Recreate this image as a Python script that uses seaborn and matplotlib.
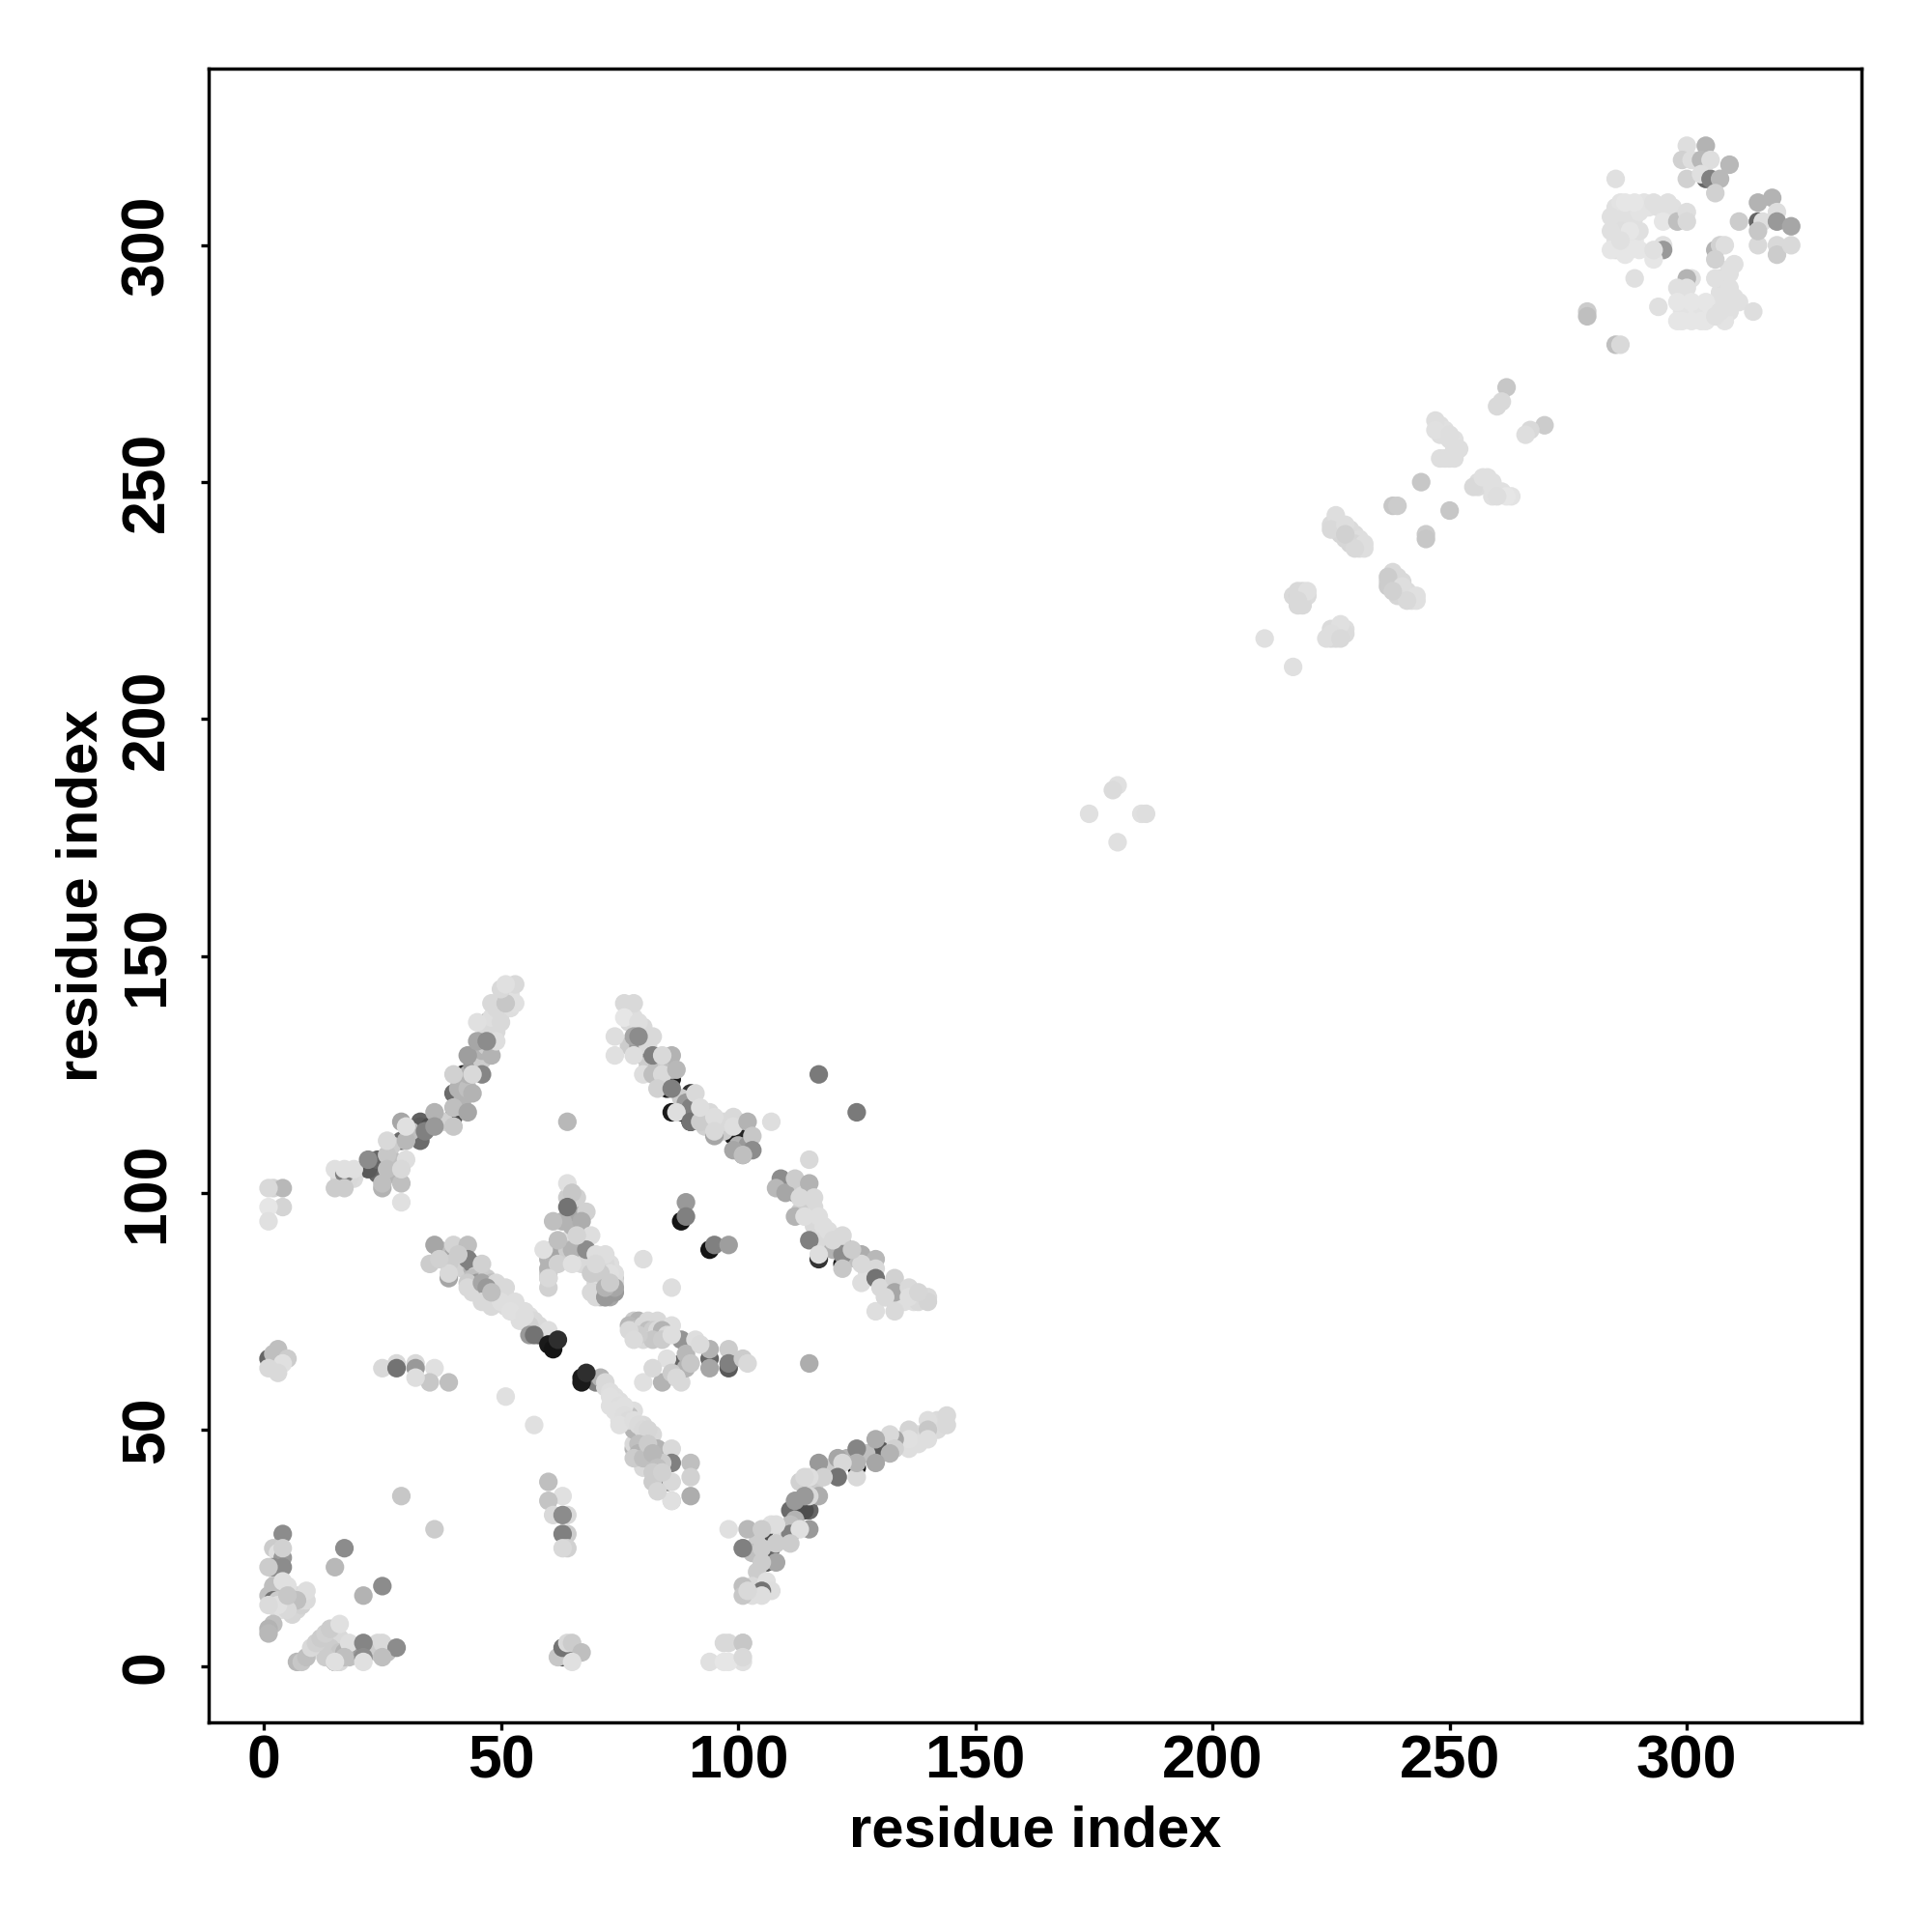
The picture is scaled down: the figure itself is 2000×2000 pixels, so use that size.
import pandas as pd
import matplotlib
matplotlib.use('Agg')
import matplotlib.pyplot as plt
import seaborn as sns

# contatos, bloco a bloco: x, y, nivel de cinza
corner_x = [4,17,15,25,21,2,3,4,4,2,4,1,2,4,1,2,4,9,7,5,2,1,1,7,8,9,10,11,12,13,14,16,18,21,21,25,28,25,17,15,15,21,3,3,5,1]
corner_y = [28,25,21,17,15,25,24,23,25,21,21,21,17,18,15,14,14,16,14,12,9,8,7,1,1,2,4,5,6,7,8,9,5,5,2,5,4,2,2,1,1,1,14,13,15,13]
corner_g = [.55,.55,.72,.55,.70,.80,.88,.60,.82,.55,.55,.80,.75,.88,.75,.45,.35,.87,.75,.85,.75,.70,.72,.72,.78,.75,.85,.82,.80,.82,.80,.88,.87,.52,.55,.85,.55,.75,.75,.35,.88,.88,.80,.88,.78,.86]
corner2_x = [3,2,2,3,4,5,6,7,6,8,8,9,7,5,3,4,12,13,14,15,15,16,14,14,16,19,18,16,13,20,24,24,26,26,17]
corner2_y = [16,15,13,12,12,13,13,12,11,13,14,14,15,17,19,16,4,5,6,7,5,6,4,2,3,4,2,1,2,4,5,3,3,4,3]
corner2_g = [.78,.82,.86,.86,.88,.82,.80,.84,.84,.82,.86,.86,.85,.88,.85,.75,.85,.85,.82,.84,.85,.85,.80,.80,.78,.87,.75,.85,.80,.60,.85,.80,.75,.86,.70]

bottom_x = [62,63,64,65,64,66,67,65,63,94,97,97,101,101,98,98,101,101]
bottom_y = [2,4,5,5,2,3,3,1,2,1,5,1,5,1,5,1,5,2]
bottom_g = [.78,.45,.85,.80,.35,.40,.75,.88,.30,.88,.85,.90,.78,.88,.85,.90,.78,.85]

left_x = [2,1,2,3,5,4,3,1,25,28,28,32,32,36,39,35,32,57,51,29,36,60,63,60,64,61,63,64,63,64,63]
left_y = [66,65,64,67,65,64,62,63,63,64,63,64,63,63,60,60,61,51,57,36,29,39,36,35,32,32,32,28,28,25,25]
left_g = [.75,.40,.35,.75,.80,.88,.85,.85,.85,.85,.45,.85,.60,.88,.75,.78,.87,.88,.88,.78,.80,.75,.88,.77,.85,.85,.55,.80,.50,.82,.85]

diag_a_x = [70,72,74,73,75,78,80,82,78,78,80,83,86,86,90,84,80,82,86,90,90,86,86,85,76,77,75,78,81,71,72,73,73,74,75,76,74,76,77,75,78,79,80,81,79,79,78,80,81,82,83,82,84,83]
diag_a_y = [60,59,57,55,52,54,51,49,46,47,48,46,46,43,43,43,42,39,39,40,36,35,35,39,54,53,56,50,45,61,60,58,57,56,55,55,54,53,52,51,52,51,50,50,47,45,44,44,47,45,42,41,41,37]
diag_a_g = [.50,.85,.88,.88,.88,.87,.85,.85,.70,.85,.60,.70,.85,.50,.75,.80,.85,.80,.85,.82,.68,.80,.88,.40,.87,.75,.87,.70,.45,.70,.85,.87,.88,.88,.87,.88,.88,.87,.86,.88,.87,.86,.85,.84,.75,.70,.80,.75,.80,.72,.75,.80,.82,.84]

mid_x = [78,79,81,83,86,80,84,80,84,88,88,91,94,89,85,89,88,94,94,98,98,98,101,102,115,82,86,90,92,87,77,78,79,80,81,82,83,84,85,80,82,84,79,77,78,86]
mid_y = [73,73,73,73,72,70,70,60,60,60,69,69,67,66,65,63,64,65,63,67,64,63,65,64,64,63,62,64,68,61,72,71,71,72,71,71,71,71,70,69,69,69,70,71,69,70]
mid_g = [.80,.70,.85,.85,.87,.85,.75,.88,.70,.85,.58,.87,.70,.72,.88,.70,.40,.40,.65,.80,.50,.35,.80,.85,.68,.85,.80,.78,.86,.85,.72,.80,.65,.85,.75,.80,.85,.70,.85,.85,.78,.80,.80,.85,.86,.87]

arc_r_x = [144,140,144,140,140,136,136,136,133,132,133,132,131,129,128,129,125,125,125,125,121,122,121,117,118,116,115,114,117,115,114,114,111,115,114,115,111,111,113,107,108,102,98,105,106,111,108,107,105,101,101,108,106,105,106,107,105,101,105,101,102]
arc_r_y = [53,52,51,50,48,50,46,48,48,49,46,45,46,48,45,43,46,42,40,43,44,43,40,43,40,40,40,40,36,36,35,36,33,33,33,29,30,28,29,30,30,29,29,29,28,26,26,25,25,25,25,22,22,22,18,16,16,17,15,15,16]
arc_r_g = [.85,.87,.85,.78,.87,.83,.87,.88,.65,.85,.82,.70,.35,.68,.35,.65,.52,.10,.85,.70,.65,.85,.45,.60,.82,.35,.87,.85,.68,.85,.05,.60,.42,.40,.30,.60,.75,.50,.88,.88,.87,.72,.88,.80,.30,.80,.80,.40,.80,.75,.50,.65,.35,.80,.88,.87,.45,.75,.87,.78,.85]
arc_r2_x = [141,142,142,138,138,134,135,127,123,119,113,116,112,112,110,109,104,103,104,103,103]
arc_r2_y = [51,52,50,49,47,47,47,45,44,42,39,38,35,31,29,27,26,24,20,17,15]
arc_r2_g = [.87,.86,.86,.86,.87,.86,.85,.75,.70,.80,.82,.80,.60,.70,.80,.85,.80,.75,.80,.85,.87]

arc_l_x = [2,4,4,1,1,1,15,17,17,19,15,17,22,22,25,25,24,26,26,29,29,29,30,29,26,29,30,29,30,33,33,33,36,35,36,40,40,40,43,40,44,40,42,46,44,43,48,45,45,49,47,45,50,47,48,53,51,50,53,51]
arc_l_y = [101,101,97,101,97,94,105,104,105,105,101,101,107,105,101,102,107,108,105,102,98,106,107,105,111,111,111,115,114,111,115,114,117,114,114,118,116,114,117,121,121,125,125,125,125,129,129,128,132,132,132,136,136,136,140,140,140,143,144,144]
arc_l_g = [.83,.72,.83,.85,.90,.88,.88,.50,.88,.88,.80,.80,.55,.35,.70,.75,.40,.78,.75,.75,.88,.25,.87,.85,.85,.42,.72,.65,.88,.42,.38,.35,.70,.30,.60,.75,.30,.78,.65,.42,.70,.82,.15,.52,.85,.62,.70,.30,.65,.87,.55,.88,.85,.40,.85,.88,.78,.85,.85,.88]
arc_l2_x = [19,18,16,24,27,27,27,31,34,37,38,42,42,41,43,43,44,46,46,47,48,47,49,48,50,52,49,51,52]
arc_l2_y = [103,103,103,104,104,107,110,113,113,115,115,118,120,122,122,125,127,128,130,131,133,134,134,137,138,139,139,142,142]
arc_l2_g = [.86,.85,.85,.40,.70,.75,.80,.75,.50,.72,.82,.75,.70,.70,.75,.70,.60,.80,.70,.80,.85,.85,.85,.87,.86,.87,.85,.88,.88]

arc_u_x = [78,76,76,79,74,82,78,79,74,78,80,82,86,84,80,82,84,87,86,83,86,85,90,91,86,87,88,90,90,92,92,95,95,95,95,99,99,99,102,102,103,99,103,101,101,107,117,125,115]
arc_u_y = [140,140,137,136,133,133,133,133,129,129,129,129,129,129,125,125,125,126,124,122,122,122,121,121,117,117,117,115,115,115,118,115,116,112,113,112,116,114,115,112,112,109,109,108,108,115,125,117,107]
arc_u_g = [.85,.85,.90,.87,.87,.85,.65,.55,.88,.87,.40,.50,.70,.85,.87,.75,.85,.72,.10,.82,.50,.10,.20,.85,.10,.87,.10,.45,.10,.80,.87,.12,.87,.65,.85,.10,.85,.87,.70,.15,.78,.65,.55,.60,.75,.87,.48,.48,.85]
arc_u2_x = [77,78,80,77,78,77,79,81,81,83,85,84,86,88,89,90,93,93,94,96,97,97,100,100,102]
arc_u2_y = [138,137,135,136,131,131,131,131,127,127,127,123,126,120,119,118,114,116,117,114,113,115,115,110,110]
arc_u2_g = [.86,.87,.85,.85,.70,.80,.60,.85,.80,.75,.80,.85,.75,.80,.60,.50,.82,.85,.85,.85,.80,.85,.85,.70,.60]

arc_d_x = [109,108,110,112,115,112,112,113,116,112,115,117,114,117,119,115,117,117,117,122,122,122,122,122,126,129,126,126,129,129,130,129,133,133,133,136,136,140,140,124,120,138,131]
arc_d_y = [103,101,100,103,102,101,100,99,99,95,95,95,95,91,92,90,90,87,86,91,89,87,85,84,87,86,85,81,84,82,80,75,82,79,75,80,78,78,77,88,90,79,78]
arc_d_g = [.55,.72,.65,.80,.70,.12,.10,.85,.85,.70,.10,.87,.87,.10,.87,.50,.05,.87,.20,.85,.20,.55,.10,.78,.68,.72,.85,.87,.85,.45,.85,.87,.82,.65,.85,.85,.87,.85,.83,.80,.85,.84,.85]
arc_d2_x = [111,113,114,114,116,113,116,118,118,120,123,125,127,128,131,132,134,135,137,138,131,127]
arc_d2_y = [102,101,100,97,97,96,93,93,90,88,88,86,84,83,78,78,78,77,77,77,80,82]
arc_d2_g = [.60,.80,.85,.80,.85,.80,.85,.87,.85,.70,.70,.75,.85,.80,.80,.82,.85,.87,.87,.85,.85,.87]

centre_x = [89,89,88,95,94,98,80,86,64,64,65,64,68,61,64,67,69,61,59,64,65,68,60,62,65,60,70,72,69,73,71,69,72,74,72,73,60,62,66,70]
centre_y = [98,95,94,89,88,89,86,80,115,102,100,97,96,94,94,94,91,88,88,88,88,88,84,85,85,80,87,87,83,83,83,79,78,80,80,81,82,90,91,85]
centre_g = [.60,.50,.08,.50,.08,.62,.87,.87,.72,.88,.78,.45,.82,.75,.20,.68,.87,.65,.88,.80,.70,.55,.70,.82,.88,.82,.87,.87,.80,.88,.80,.85,.60,.65,.70,.80,.85,.75,.83,.85]
centre2_x = [70,70,70,71,71,72,73,73,74,74,71,72,73,70,74,74,73,72,71,60,60,60,61,61,63,64,66,67,66,67,65,66,65,65,64,66,63]
centre2_y = [85,83,81,81,79,79,79,80,82,81,78,78,78,78,79,83,85,85,85,82,83,86,85,87,86,86,86,85,90,89,91,92,93,96,99,99,94]
centre2_g = [.84,.86,.84,.86,.75,.72,.70,.75,.80,.85,.70,.60,.65,.85,.60,.87,.87,.85,.85,.78,.80,.70,.75,.70,.85,.88,.88,.85,.85,.80,.87,.85,.70,.65,.80,.82,.70]

diag_b_x = [36,40,43,35,39,43,46,39,39,43,43,46,49,51,53,47,46,50,58,60,56,54,52,56,57,58,41,37,48,55]
diag_b_y = [89,89,89,85,85,86,85,82,83,81,80,81,81,80,77,80,77,77,72,71,72,73,75,70,70,70,87,86,79,74]
diag_b_g = [.65,.83,.75,.80,.80,.50,.82,.65,.85,.80,.85,.65,.85,.85,.87,.60,.85,.87,.85,.87,.82,.87,.88,.60,.45,.35,.80,.82,.75,.87]
diag_b2_x = [37,41,42,40,41,42,44,44,45,44,45,47,48,48,49,50,50,51,52,52,53,54,55,55,56,57,58,59,51,49,47,48,44]
diag_b2_y = [88,88,88,87,85,84,84,85,83,82,81,82,81,80,79,79,78,78,77,76,75,75,75,73,74,73,71,71,76,77,78,76,79]
diag_b2_g = [.75,.85,.80,.65,.75,.82,.70,.50,.80,.75,.60,.80,.75,.70,.65,.80,.85,.80,.85,.87,.86,.87,.87,.85,.87,.85,.70,.80,.86,.82,.85,.85,.85]

# o nucleo escuro fica por cima de tudo
core_x = [60,61,62,67,67,68]
core_y = [68,67,69,61,60,62]
core_g = [.10,.08,.18,.10,.10,.18]

upper_x = [174,180,179,180,185,186,211,217,218,220,218,218,227,225,224,227,238,237,240,243,241,238,226,225,228,232,230,228,244,238,239,250,245,245,255,257,259,262,260,247,247,250,251,249,250,262,261,260,270,267,266]
upper_y = [180,186,185,174,180,180,217,211,227,227,225,224,220,218,217,217,231,230,228,226,225,227,243,240,241,237,236,239,250,245,245,244,239,238,249,251,250,247,247,263,261,260,257,255,255,270,267,266,262,261,260]
upper_g = [.88,.88,.86,.88,.88,.87,.88,.88,.85,.88,.85,.85,.88,.87,.87,.85,.85,.80,.87,.88,.85,.82,.87,.85,.87,.87,.85,.82,.78,.78,.80,.78,.80,.78,.85,.88,.88,.90,.87,.87,.88,.87,.87,.87,.87,.78,.85,.85,.80,.85,.87]
upper2_x = [226,227,226,225,228,229,229,230,231,230,231,232,229,227,228,237,238,239,239,240,241,240,242,239,238,237,241,242,243,219,217,219,220,218,219,225,226,226,226,228,228,225,248,248,249,250,251,251,252,251,248,251,256,258,258,256,259,260,261,259,263]
upper2_y = [242,241,240,241,240,240,238,239,238,237,236,236,237,239,238,229,229,230,228,229,227,226,226,226,228,228,226,225,225,227,226,225,226,226,224,219,219,217,218,219,218,217,262,260,261,259,258,259,257,256,255,255,250,251,250,249,249,248,248,247,247]
upper2_g = [.87,.86,.85,.86,.87,.86,.84,.86,.87,.84,.86,.87,.84,.84,.84,.84,.82,.85,.82,.85,.86,.84,.87,.84,.82,.80,.85,.87,.88,.86,.85,.85,.86,.84,.85,.86,.86,.85,.86,.87,.86,.85,.87,.87,.88,.87,.87,.88,.87,.87,.87,.87,.87,.88,.88,.86,.88,.88,.88,.88,.89]

top_x = [300,304,299,301,303,305,309,300,303,304,305,307,306,285,287,289,294,295,284,284,284,288,288,286,295,298,300,300,295,295,293,293,306,307,308,306,289,301,300,298,300,294,309,306,309,298,298,301,301,304,304,306,307,309,314,279,279,285,286,311,315,318,315,316,319,319,322,315,315,319,319,322]
top_y = [321,321,318,318,318,318,317,314,315,314,314,314,311,314,309,309,308,308,306,303,299,303,299,301,305,305,307,305,300,299,297,299,299,300,300,297,293,293,293,291,291,287,294,293,291,288,284,288,284,288,284,285,286,287,286,286,285,279,279,305,309,310,305,305,307,305,304,300,303,300,298,300]
top_g = [.87,.70,.82,.87,.72,.87,.72,.82,.88,.40,.50,.72,.82,.88,.90,.90,.88,.88,.88,.88,.90,.90,.90,.88,.90,.75,.87,.85,.88,.60,.90,.88,.70,.82,.87,.82,.88,.88,.70,.88,.88,.88,.88,.88,.88,.90,.90,.90,.90,.90,.90,.88,.88,.88,.87,.80,.75,.75,.85,.80,.70,.70,.40,.87,.87,.60,.65,.85,.78,.85,.80,.85]
top2_x = [285,286,288,285,287,289,285,287,289,285,287,290,291,292,293,296,297,286,288,290,290,299,300,302,303,305,306,308,309,299,302,303,305,307,308,310,299,303,306,308,310,307,308,309,310,308,309,307,311]
top2_y = [308,309,308,305,306,306,301,300,301,299,298,307,309,308,309,309,308,303,303,303,299,286,285,286,285,286,285,285,286,287,287,287,287,288,288,288,284,284,285,284,289,290,292,295,296,289,290,293,288]
top2_g = [.88,.89,.89,.87,.88,.88,.89,.89,.90,.88,.90,.89,.89,.89,.88,.88,.88,.87,.88,.88,.90,.90,.89,.90,.89,.90,.89,.90,.88,.89,.90,.89,.90,.89,.88,.88,.90,.90,.90,.89,.88,.88,.88,.88,.88,.88,.88,.87,.88]

x_ticks = [0, 50, 100, 150, 200, 250, 300]
y_ticks = [0, 50, 100, 150, 200, 250, 300]

# blocos de preenchimento antes, para ficarem por baixo dos pontos lidos um a um
blocks = [
    (corner2_x, corner2_y, corner2_g), (arc_r2_x, arc_r2_y, arc_r2_g), (arc_l2_x, arc_l2_y, arc_l2_g),
    (arc_u2_x, arc_u2_y, arc_u2_g), (arc_d2_x, arc_d2_y, arc_d2_g), (centre2_x, centre2_y, centre2_g),
    (diag_b2_x, diag_b2_y, diag_b2_g), (upper2_x, upper2_y, upper2_g), (top2_x, top2_y, top2_g),
    (corner_x, corner_y, corner_g), (bottom_x, bottom_y, bottom_g), (left_x, left_y, left_g),
    (diag_a_x, diag_a_y, diag_a_g), (mid_x, mid_y, mid_g), (arc_r_x, arc_r_y, arc_r_g),
    (arc_l_x, arc_l_y, arc_l_g), (arc_u_x, arc_u_y, arc_u_g), (arc_d_x, arc_d_y, arc_d_g),
    (centre_x, centre_y, centre_g), (diag_b_x, diag_b_y, diag_b_g), (upper_x, upper_y, upper_g),
    (top_x, top_y, top_g),
]
data = pd.concat([pd.DataFrame({'x': a, 'y': b, 'g': c}) for a, b, c in blocks])
# os bem escuros primeiro: sobram so as meias-luas por baixo dos claros
data['fundo'] = data['g'] >= 0.45
data = data.sort_values('fundo', kind='stable').drop(columns='fundo')
core = pd.DataFrame({'x': core_x, 'y': core_y, 'g': core_g})
data = pd.concat([data, core], ignore_index=True)
data['cor'] = data['g'].map(lambda v: f'{v:.2f}')

sns.set_style('white')
plt.rcParams['font.family'] = ['Liberation Sans', 'DejaVu Sans']
plt.rcParams['text.color'] = 'black'
plt.rcParams['axes.labelcolor'] = 'black'
plt.rcParams['xtick.color'] = 'black'
plt.rcParams['ytick.color'] = 'black'

fig = plt.figure(figsize=(10, 10), dpi=200)
ax = fig.add_axes([0.1078, 0.1084, 0.8559, 0.8559])
sns.scatterplot(data=data, x='x', y='y', hue='cor', palette={c: c for c in data['cor'].unique()},
                s=48, linewidth=0, legend=False, ax=ax)

ax.set_xlim(-11.7, 336.9)
ax.set_ylim(-11.8, 337.2)
ax.set_xticks(x_ticks)
ax.set_yticks(y_ticks)
ax.tick_params(axis='both', bottom=True, left=True, length=3, width=1.2, color='black', labelsize=22.5)
ax.tick_params(axis='x', pad=1)
ax.tick_params(axis='y', pad=9)
for lab in ax.get_yticklabels():
    lab.set_rotation(90)
    lab.set_va('center')
for lab in ax.get_xticklabels() + ax.get_yticklabels():
    lab.set_fontweight('bold')
for sp in ax.spines.values():
    sp.set_linewidth(1.25)
    sp.set_color('black')
ax.set_xlabel('residue index', fontsize=21.5, fontweight='bold', labelpad=5.5)
ax.set_ylabel('residue index', fontsize=21.5, fontweight='bold', labelpad=4)

fig.savefig('out.png', dpi=200)
